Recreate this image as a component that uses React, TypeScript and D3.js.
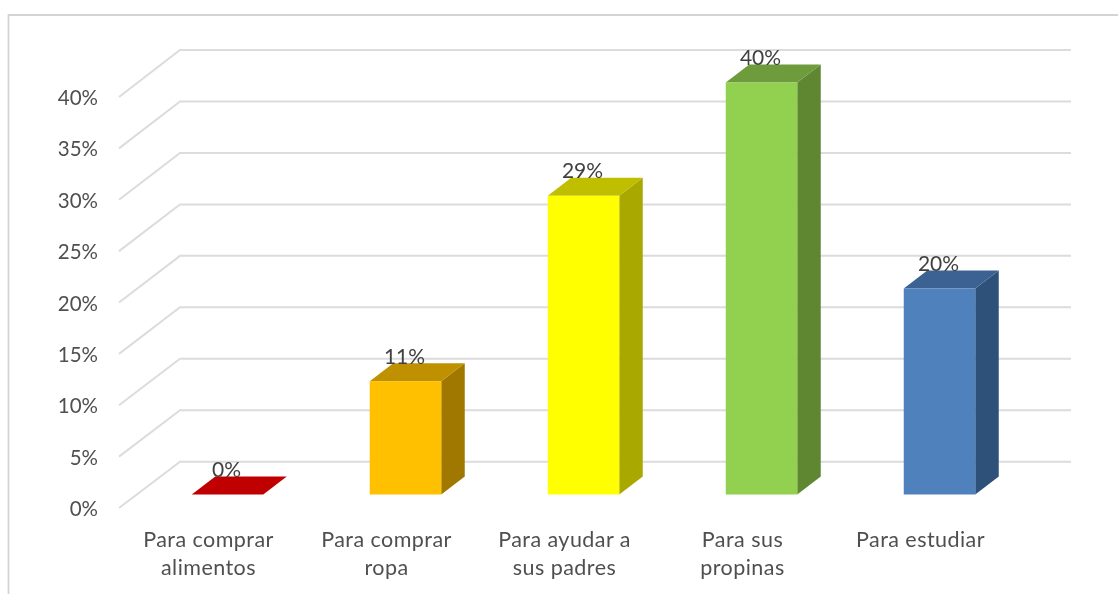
import { useRef, useEffect } from "react";
import * as d3 from "d3";

const categories = [
  "Para comprar alimentos",
  "Para comprar ropa",
  "Para ayudar a sus padres",
  "Para sus propinas",
  "Para estudiar",
];
const categoryLines = [
  ["Para comprar", "alimentos"],
  ["Para comprar", "ropa"],
  ["Para ayudar a", "sus padres"],
  ["Para sus", "propinas"],
  ["Para estudiar"],
];
const values = [0, 0.11, 0.29, 0.4, 0.2];
const yTicks = [0, 0.05, 0.1, 0.15, 0.2, 0.25, 0.3, 0.35, 0.4];
const frontColors = ["#c00000", "#ffc000", "#ffff00", "#92d050", "#4f81bd"];
const sideColors = ["#8f0000", "#a07800", "#a8a800", "#5f8733", "#2f5179"];
const topColors = ["#c00000", "#bf9000", "#bfbf00", "#6e9c3c", "#3b6292"];

const WIDTH = 1118;
const HEIGHT = 594;
const FONT = "Lato, 'Open Sans', sans-serif";

export default function App() {
  // Initialize reference to the SVG element
  const ref = useRef<SVGSVGElement>(null);

  useEffect(() => {
    if (!ref.current) return;
    const svgElement = d3.select(ref.current);
    svgElement.selectAll("*").remove();

    // The source is a slightly soft screenshot
    svgElement
      .append("filter")
      .attr("id", "soft")
      .attr("x", 0)
      .attr("y", 0)
      .attr("width", "100%")
      .attr("height", "100%")
      .append("feGaussianBlur")
      .attr("stdDeviation", 0.45);
    const svg = svgElement.append("g").attr("filter", "url(#soft)");
    svg
      .append("rect")
      .attr("width", WIDTH)
      .attr("height", HEIGHT)
      .attr("fill", "#fff");

    // Outer frame: only the top and left edges are in the picture
    svg
      .append("path")
      .attr("d", `M1118,15H8.5V594`)
      .attr("fill", "none")
      .attr("stroke", "#d4d4d4")
      .attr("stroke-width", 1.8);

    // Scales: front plane of the bars, and the wall at the back
    const yFront = d3.scaleLinear().domain([0, 0.4]).range([494.5, 82.5]);
    const yAxis = d3.scaleLinear().domain([0, 0.4]).range([508, 97]);
    const yBack = d3.scaleLinear().domain([0, 0.4]).range([461.7, 50]);
    const xLabel = d3.scaleBand().domain(categories).range([120, 1010]);
    const barWidth = 71.5;
    const barShift = 18.5;
    const depthX = 23.5;
    const depthY = 18;

    // Gridlines with the diagonal floor segment
    svg
      .append("g")
      .selectAll("path")
      .data(yTicks)
      .join("path")
      .attr("d", (d) => `M119,${yAxis(d)}L180,${yBack(d)}H1071`)
      .attr("fill", "none")
      .attr("stroke", "#dcdcdc")
      .attr("stroke-width", 2);

    // Axis labels
    svg
      .append("g")
      .selectAll("text")
      .data(yTicks)
      .join("text")
      .attr("x", 98)
      .attr("y", (d) => yAxis(d) + 8)
      .attr("text-anchor", "end")
      .attr("font-size", 20.5)
      .attr("fill", "#505050")
      .text((d) => d3.format(".0%")(d));

    // Bars: front, side and top faces
    const bars = svg
      .append("g")
      .selectAll("g")
      .data(categories)
      .join("g");

    const left = (c: string) =>
      (xLabel(c) as number) + xLabel.bandwidth() / 2 + barShift - barWidth / 2;
    const valueOf = (c: string) => values[categories.indexOf(c)];
    const colorOf = (list: string[], c: string) => list[categories.indexOf(c)];

    bars
      .append("path")
      .attr("fill", (c) => colorOf(sideColors, c))
      .attr("d", (c) => {
        const x = left(c) + barWidth;
        return `M${x},${yFront(0)}V${yFront(valueOf(c))}l${depthX},${-depthY}V${yFront(0) - depthY}Z`;
      });
    bars
      .append("path")
      .attr("fill", (c) => colorOf(topColors, c))
      .attr("d", (c) => {
        const y = yFront(valueOf(c));
        return `M${left(c)},${y}h${barWidth}l${depthX},${-depthY}h${-barWidth}Z`;
      });
    bars
      .append("rect")
      .attr("x", left)
      .attr("y", (c) => yFront(valueOf(c)))
      .attr("width", barWidth)
      .attr("height", (c) => yFront(0) - yFront(valueOf(c)))
      .attr("fill", (c) => colorOf(frontColors, c));

    // Value labels sit above the top face
    bars
      .append("text")
      .attr("x", (c) => left(c) + barWidth / 2 - 1)
      .attr("y", (c) => yFront(valueOf(c)) - 17.5)
      .attr("text-anchor", "middle")
      .attr("font-size", 21)
      .attr("fill", "#404040")
      .text((c) => d3.format(".0%")(valueOf(c)));

    // Category labels, wrapped the way the chart wraps them
    const catLabels = svg
      .append("g")
      .selectAll("text")
      .data(categories)
      .join("text")
      .attr("text-anchor", "middle")
      .attr("font-size", 21.5)
      .attr("letter-spacing", 0.45)
      .attr("fill", "#505050");
    catLabels
      .selectAll("tspan")
      .data((c) =>
        categoryLines[categories.indexOf(c)].map((line, i) => ({ c, line, i })),
      )
      .join("tspan")
      .attr("x", (d) => (xLabel(d.c) as number) + xLabel.bandwidth() / 2 - 0.5)
      .attr("y", (d) => 547 + d.i * 28)
      .text((d) => d.line);
  }, []);

  return (
    <svg
      ref={ref}
      width={WIDTH}
      height={HEIGHT}
      style={{ position: "absolute", left: 0, top: 0, fontFamily: FONT, background: "#fff" }}
    />
  );
}
